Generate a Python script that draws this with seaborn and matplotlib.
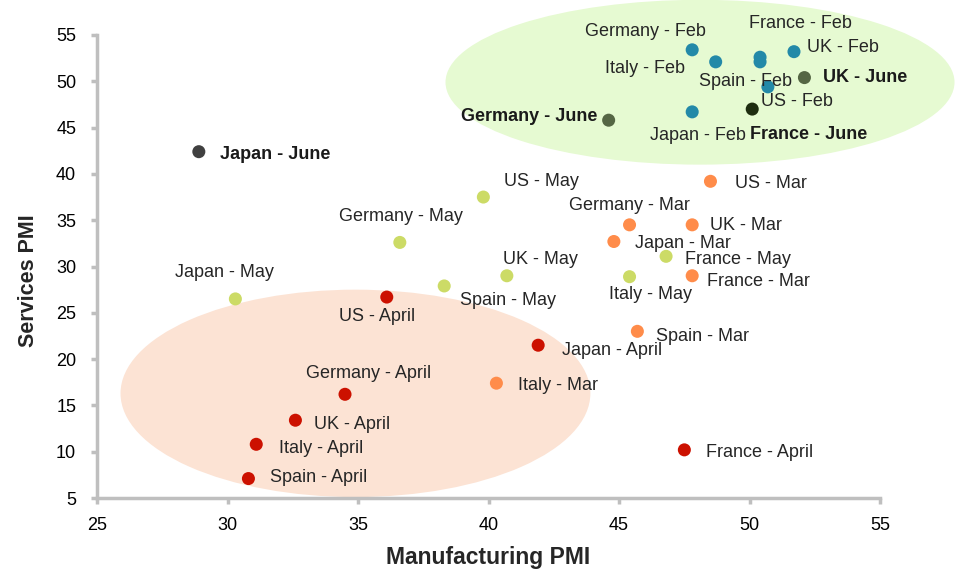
import numpy as np
import pandas as pd
import seaborn as sns
import matplotlib.pyplot as plt
from matplotlib.patches import Ellipse

# PMI readings per country and month
labels = [
    "Germany - Feb", "France - Feb", "UK - Feb", "Italy - Feb", "Spain - Feb", "US - Feb", "Japan - Feb",
    "Germany - June", "UK - June", "France - June", "Japan - June",
    "US - May", "Germany - May", "Japan - May", "Spain - May", "UK - May", "France - May", "Italy - May",
    "US - Mar", "Germany - Mar", "UK - Mar", "Japan - Mar", "France - Mar", "Spain - Mar", "Italy - Mar",
    "US - April", "Japan - April", "Germany - April", "UK - April", "Italy - April", "Spain - April", "France - April",
]
manufacturing = [
    47.8, 50.4, 51.7, 48.7, 50.4, 50.7, 47.8,
    44.6, 52.1, 50.1, 28.9,
    39.8, 36.6, 30.3, 38.3, 40.7, 46.8, 45.4,
    48.5, 45.4, 47.8, 44.8, 47.8, 45.7, 40.3,
    36.1, 41.9, 34.5, 32.6, 31.1, 30.8, 47.5,
]
services = [
    53.4, 52.6, 53.2, 52.1, 52.1, 49.4, 46.7,
    45.8, 50.4, 47.0, 42.4,
    37.5, 32.6, 26.5, 27.9, 29.0, 31.1, 28.9,
    39.2, 34.5, 34.5, 32.7, 29.0, 23.0, 17.4,
    26.7, 21.5, 16.2, 13.4, 10.8, 7.1, 10.2,
]
group = (["Feb"] * 7 + ["June", "June", "June dark", "June grey"]
         + ["May"] * 7 + ["Mar"] * 7 + ["April"] * 7)
bold = [False] * 7 + [True] * 4 + [False] * 21

# label offsets in pixels (dx, dy) from each point, text left-aligned
offsets = [
    (-107, 18), (-11, 34), (13, 4), (-111, -7), (-61, -20), (-7, -15), (-42, -24),
    (-148, 4), (19, 0), (-2, -25), (21, -3),
    (21, 16), (-61, 26), (-60, 26), (16, -15), (-4, 16), (19, -3), (-21, -18),
    (25, -2), (-61, 19), (18, -1), (21, -2), (15, -6), (19, -5), (22, -2),
    (-48, -19), (24, -5), (-39, 21), (19, -4), (23, -4), (22, 1), (22, -3),
]

palette = {
    "Feb": "#2389a8", "Mar": "#ff8c4a", "April": "#cc1100", "May": "#ccdb66",
    "June": "#556644", "June dark": "#1e2d10", "June grey": "#404040",
}

df = pd.DataFrame({"label": labels, "manufacturing": manufacturing,
                   "services": services, "group": group})

sns.set_style("white")
plt.rcParams["font.family"] = ["Liberation Sans", "DejaVu Sans"]

fig = plt.figure(figsize=(9.55, 5.7), dpi=100)
ax = fig.add_axes([0.1016, 0.1263, 0.82, 0.8123])

# shaded regions
ax.add_patch(Ellipse((48.1, 49.9), 19.5, 17.8, facecolor="#e6fad2",
                     edgecolor="none", zorder=0, clip_on=False))
ax.add_patch(Ellipse((34.9, 16.3), 18.0, 22.4, facecolor="#fce3d4",
                     edgecolor="none", zorder=0, clip_on=False))

sns.scatterplot(data=df, x="manufacturing", y="services", hue="group",
                palette=palette, s=88, linewidth=0, legend=False, ax=ax, zorder=3)

for lab, x, y, (dx, dy), b in zip(labels, manufacturing, services, offsets, bold):
    ax.annotate(lab, (x, y), xytext=(dx, dy), textcoords="offset pixels",
                ha="left", va="center", fontsize=13,
                fontweight="bold" if b else "normal",
                color="#1a1a1a" if b else "#262626", zorder=4)

ax.set_xlim(25, 55)
ax.set_ylim(5, 55)
ax.set_xticks(np.arange(25, 56, 5))
ax.set_yticks(np.arange(5, 56, 5))
ax.tick_params(axis="both", labelsize=13, colors="#bfbfbf", labelcolor="black",
               direction="out", length=4, width=2.5, bottom=True, left=True)
ax.tick_params(axis="x", pad=10)
ax.tick_params(axis="y", pad=11)
for side in ["top", "right"]:
    ax.spines[side].set_visible(False)
for side in ["left", "bottom"]:
    ax.spines[side].set_color("#bfbfbf")
    ax.spines[side].set_linewidth(2.5)

ax.set_xlabel("Manufacturing PMI", fontsize=16.5, fontweight="bold", labelpad=8)
ax.set_ylabel("Services PMI", fontsize=15.5, fontweight="bold")
ax.yaxis.set_label_coords(-0.074, 0.47)

fig.savefig("out.png", dpi=100)
